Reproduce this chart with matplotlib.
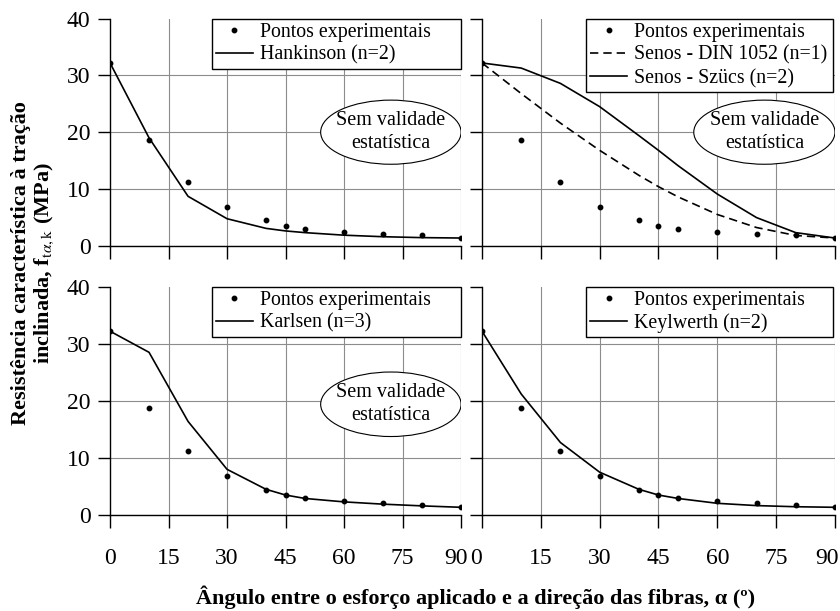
import matplotlib
matplotlib.use('Agg')
import matplotlib.pyplot as plt
import matplotlib.transforms as mtransforms
from matplotlib.patches import Ellipse

plt.rcParams['font.family'] = ['Liberation Serif', 'DejaVu Serif']
plt.rcParams['mathtext.fontset'] = 'stix'

# angles (degrees)
angulos = [0, 10, 20, 30, 40, 45, 50, 60, 70, 80, 90]
# experimental points
pontos = [32.2, 18.7, 11.2, 6.75, 4.45, 3.45, 2.9, 2.4, 2.05, 1.8, 1.35]

hankinson = [32.2, 19.0, 8.7, 4.75, 3.05, 2.6, 2.3, 1.85, 1.58, 1.42, 1.35]
din1052 = [32.2, 26.8, 21.6, 16.8, 12.4, 10.4, 8.6, 5.5, 3.2, 1.8, 1.35]
szucs = [32.2, 31.3, 28.6, 24.5, 19.4, 16.8, 14.1, 9.1, 4.95, 2.3, 1.35]
karlsen = [32.2, 28.5, 16.4, 8.0, 4.5, 3.5, 2.9, 2.3, 1.9, 1.6, 1.35]
keylwerth = [32.2, 21.2, 12.7, 7.5, 4.5, 3.5, 2.9, 2.05, 1.65, 1.45, 1.35]

xticks = [0, 15, 30, 45, 60, 75, 90]
yticks = [0, 10, 20, 30, 40]

fig = plt.figure(figsize=(8.4, 6.11), dpi=100)

pos = [
    [0.1310, 0.5979, 0.4179, 0.3715],
    [0.5738, 0.5979, 0.4202, 0.3715],
    [0.1310, 0.1571, 0.4179, 0.3737],
    [0.5738, 0.1571, 0.4202, 0.3737],
]

curvas = [
    [(hankinson, '-', 'Hankinson (n=2)')],
    [(din1052, '--', 'Senos - DIN 1052 (n=1)'), (szucs, '-', 'Senos - Szücs (n=2)')],
    [(karlsen, '-', 'Karlsen (n=3)')],
    [(keylwerth, '-', 'Keylwerth (n=2)')],
]
sem_validade = [True, True, True, False]
# legend box: left edge and right edge in axes fraction
leg_box = [(0.29, 1.0), (0.295, 0.994), (0.29, 1.0), (0.295, 0.994)]

def shift(lab, dx):
    lab.set_transform(lab.get_transform() +
                      mtransforms.ScaledTranslation(dx / 100, 0, fig.dpi_scale_trans))

for i in range(4):
    ax = fig.add_axes(pos[i])
    ax.plot(angulos, pontos, 'o', color='black', markersize=3.2,
            label='Pontos experimentais', zorder=4)
    for ys, ls, lab in curvas[i]:
        ax.plot(angulos, ys, ls, color='black', lw=1.2, label=lab,
                dashes=(5, 3) if ls == '--' else (None, None), zorder=3)
    ax.set_xlim(0, 90)
    ax.set_ylim(0, 40)
    ax.set_xticks(xticks)
    ax.set_yticks(yticks)
    ax.grid(True, color='#8c8c8c', lw=0.8)
    ax.get_ygridlines()[-1].set_visible(False)
    ax.get_xgridlines()[0].set_visible(False)
    for s in ['top', 'right']:
        ax.spines[s].set_visible(False)
    for s in ['left', 'bottom']:
        ax.spines[s].set_linewidth(1.0)
    ax.tick_params(direction='out', length=9, width=1.0, labelsize=17)
    ax.tick_params(axis='y', pad=5)
    if i < 2:
        ax.tick_params(labelbottom=False)
    else:
        ax.tick_params(axis='x', pad=15)
    if i % 2 == 1:
        ax.tick_params(axis='y', labelleft=False)
    x0, x1 = leg_box[i]
    leg = ax.legend(loc='upper right', bbox_to_anchor=(x0, 0, x1 - x0, 1),
                    mode='expand', borderaxespad=0, fancybox=False,
                    edgecolor='black', framealpha=1, fontsize=14.3,
                    handlelength=1.86, handletextpad=0.35, borderpad=0.2,
                    labelspacing=0.2, numpoints=1)
    leg.get_frame().set_linewidth(1.0)
    if sem_validade[i]:
        yc = 20.0 if i < 2 else 19.4
        e = Ellipse((72, yc), 36, 11.3, facecolor='white', edgecolor='black',
                    lw=0.8, zorder=5)
        ax.add_patch(e)
        ax.text(72, yc, 'Sem validade\nestatística', ha='center', va='center',
                fontsize=14.5, linespacing=1.3, zorder=6)
    if i >= 2:
        fig.canvas.draw()
        labs = ax.get_xticklabels()
        if i == 2:
            shift(labs[-1], -5)
        else:
            shift(labs[0], -6)
            labs[-1].set_horizontalalignment('right')
            shift(labs[-1], 4)

fig.text(0.040, 0.57, 'Resistência característica à tração\n'
         r'inclinada, f$_{\mathrm{t}\alpha\mathrm{,k}}$ (MPa)',
         rotation=90, ha='center', va='center', fontsize=16,
         fontweight='bold', linespacing=1.05)
fig.text(0.566, 0.012, 'Ângulo entre o esforço aplicado e a direção das fibras, α (º)',
         ha='center', va='baseline', fontsize=16, fontweight='bold')

fig.savefig('out.png', dpi=100)
